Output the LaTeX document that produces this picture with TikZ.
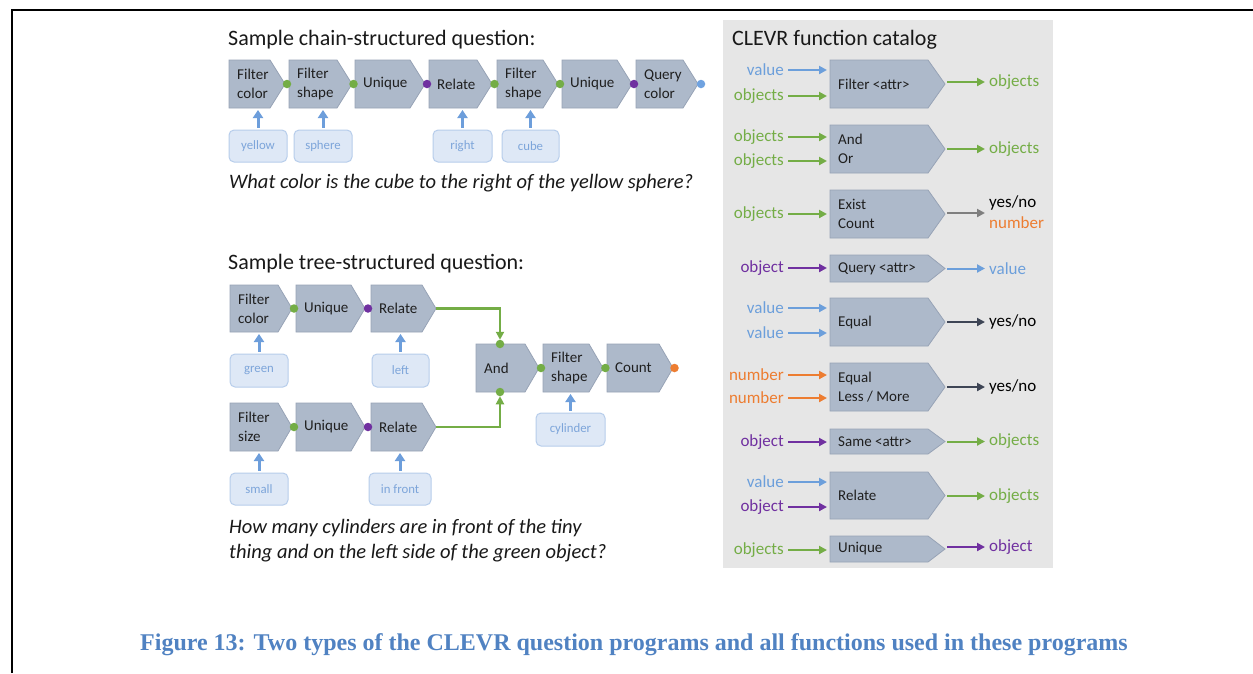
\documentclass[tikz,border=0pt]{standalone}
\usepackage{fontspec}
\setmainfont{Carlito}
\newfontfamily\capfont{Liberation Serif}
\usetikzlibrary{arrows.meta,calc}
\definecolor{boxfill}{HTML}{ADB9CA}
\definecolor{boxline}{HTML}{97A3B6}
\definecolor{inboxfill}{HTML}{DEE8F6}
\definecolor{inboxline}{HTML}{B7CDEB}
\definecolor{inboxtext}{HTML}{7DA5DA}
\definecolor{arrblue}{HTML}{6D9EDB}
\definecolor{cblue}{HTML}{6C9FDB}
\definecolor{cgreen}{HTML}{74AD46}
\definecolor{cpurple}{HTML}{7030A0}
\definecolor{corange}{HTML}{ED7D31}
\definecolor{cgray}{HTML}{7F7F7F}
\definecolor{cdark}{HTML}{3E4555}
\definecolor{catbg}{HTML}{E6E6E6}
\definecolor{capblue}{HTML}{5082C2}
\definecolor{dblue}{HTML}{6FA2E0}
\newcommand\pbox[7]{%
  \node[inner sep=0,outer sep=0,minimum width=#4pt,minimum height=#5pt,anchor=north west] (#1) at (#2,#3) {};
  \draw[boxst] (#1.north west) -- ([xshift=-#6pt]#1.north east) -- (#1.east) -- ([xshift=-#6pt]#1.south east) -- (#1.south west) -- cycle;
  \node[btext] (#1t) at ([xshift=8pt]#1.west) {#7};
}
\begin{document}
\begin{tikzpicture}[x=1pt,y=-1pt,
  boxst/.style={fill=boxfill,draw=boxline,line width=0.8pt},
  btext/.style={font=\fontsize{15}{19}\selectfont,align=left,text=black!88,inner sep=0,anchor=west},
  inbox/.style={rounded corners=5pt,fill=inboxfill,draw=inboxline,line width=1pt,font=\fontsize{12.8}{15}\selectfont,text=inboxtext,inner sep=0,minimum height=32pt},
  dotst/.style={circle,inner sep=0,outer sep=0,minimum size=8.5pt},
  inarrow/.style={-{Triangle[width=10pt,length=8pt]},line width=3pt,draw=arrblue},
  treearrow/.style={-{Triangle[width=8pt,length=8pt]},line width=2.5pt,draw=cgreen},
  catarr/.style={-{Triangle[width=8pt,length=8pt]},line width=2pt},
  catlab/.style={font=\fontsize{17}{20}\selectfont,inner sep=0},
  title/.style={font=\fontsize{22}{26}\selectfont,inner sep=0,anchor=base west,text=black!90},
  question/.style={font=\fontsize{20.5}{25}\selectfont\itshape,inner sep=0,anchor=base west,align=left,text=black!90}
]
\useasboundingbox (0,0) rectangle (1253,673);
\fill[white] (0,0) rectangle (1253,673);
% frame
\draw[line width=2pt] (12,673) -- (12,10) -- (1253,10);

% ---------------- chain question ----------------
\node[title] (chaintitle) at (228,45) {Sample chain-structured question:};
\pbox{cb1}{229}{60}{56}{48}{15}{Filter\\color}
\pbox{cb2}{289}{60}{63}{48}{15}{Filter\\shape}
\pbox{cb3}{355}{60}{70}{48}{15}{Unique}
\pbox{cb4}{429}{60}{63}{48}{15}{Relate}
\pbox{cb5}{497}{60}{61}{48}{15}{Filter\\shape}
\pbox{cb6}{562}{60}{70}{48}{15}{Unique}
\pbox{cb7}{636}{60}{62}{48}{15}{Query\\color}
\node[dotst,fill=cgreen] (cd1) at ($(cb1.east)!0.5!(cb2.west)$) {};
\node[dotst,fill=cgreen] (cd2) at ($(cb2.east)!0.5!(cb3.west)$) {};
\node[dotst,fill=cpurple] (cd3) at ($(cb3.east)!0.5!(cb4.west)$) {};
\node[dotst,fill=cgreen] (cd4) at ($(cb4.east)!0.5!(cb5.west)$) {};
\node[dotst,fill=cgreen] (cd5) at ($(cb5.east)!0.5!(cb6.west)$) {};
\node[dotst,fill=cpurple] (cd6) at ($(cb6.east)!0.5!(cb7.west)$) {};
\node[dotst,fill=dblue] (cd7) at ([xshift=3pt]cb7.east) {};

\node[inbox,minimum width=58pt] (iyellow) at (258,146) {yellow};
\node[inbox,minimum width=58pt] (isphere) at (323,146) {sphere};
\node[inbox,minimum width=59pt] (iright) at (462.5,146) {right};
\node[inbox,minimum width=57pt] (icube) at (530.5,146) {cube};
\draw[inarrow] ([yshift=2pt]iyellow.north) -- ([yshift=-2pt]iyellow.north |- cb1.south);
\draw[inarrow] ([yshift=2pt]isphere.north) -- ([yshift=-2pt]isphere.north |- cb2.south);
\draw[inarrow] ([yshift=2pt]iright.north) -- ([yshift=-2pt]iright.north |- cb4.south);
\draw[inarrow] ([yshift=2pt]icube.north) -- ([yshift=-2pt]icube.north |- cb5.south);

\node[question] (chainq) at (229,188) {What color is the cube to the right of the yellow sphere?};

% ---------------- tree question ----------------
\node[title] (treetitle) at (228,269) {Sample tree-structured question:};
\pbox{ta}{230}{285}{62}{47}{14}{Filter\\color}
\pbox{tb}{296}{285}{69}{47}{14}{Unique}
\pbox{tc}{371}{285}{65}{47}{14}{Relate}
\pbox{ba}{230}{403}{62}{48}{14}{Filter\\size}
\pbox{bb}{296}{403}{69}{48}{14}{Unique}
\pbox{bc}{371}{403}{65}{48}{14}{Relate}
\pbox{tand}{476}{344}{63}{48}{14}{And}
\pbox{tfs}{543}{344}{60}{48}{14}{Filter\\shape}
\pbox{tcount}{607}{344}{66}{48}{14}{Count}
\node[dotst,fill=cgreen] (td1) at ($(ta.east)!0.5!(tb.west)$) {};
\node[dotst,fill=cpurple] (td2) at ($(tb.east)!0.5!(tc.west)$) {};
\node[dotst,fill=cgreen] (bd1) at ($(ba.east)!0.5!(bb.west)$) {};
\node[dotst,fill=cpurple] (bd2) at ($(bb.east)!0.5!(bc.west)$) {};
\node[dotst,fill=cgreen] (andtop) at ([xshift=24pt]tand.north west) {};
\node[dotst,fill=cgreen] (andbot) at ([xshift=24pt]tand.south west) {};
\node[dotst,fill=cgreen] (ad1) at ($(tand.east)!0.5!(tfs.west)$) {};
\node[dotst,fill=cgreen] (ad2) at ($(tfs.east)!0.6!(tcount.west)$) {};
\node[dotst,fill=corange] (ad3) at ([xshift=1.5pt]tcount.east) {};
\draw[treearrow] (tc.east) -| (andtop);
\draw[treearrow] (bc.east) -| (andbot);

\node[inbox,minimum width=58pt,minimum height=33pt] (igreen) at (259,370.5) {green};
\node[inbox,minimum width=57pt,minimum height=33pt] (ileft) at (400.5,370.5) {left};
\node[inbox,minimum width=58pt] (ismall) at (259,489) {small};
\node[inbox,minimum width=62pt] (ifront) at (400,489) {in front};
\node[inbox,minimum width=69pt,minimum height=33pt] (icyl) at (570.5,429.5) {cylinder};
\draw[inarrow] ([yshift=2pt]igreen.north) -- ([yshift=-2pt]igreen.north |- ta.south);
\draw[inarrow] ([yshift=2pt]ileft.north) -- ([yshift=-2pt]ileft.north |- tc.south);
\draw[inarrow] ([yshift=2pt]ismall.north) -- ([yshift=-2pt]ismall.north |- ba.south);
\draw[inarrow] ([yshift=2pt]ifront.north) -- ([yshift=-2pt]ifront.north |- bc.south);
\draw[inarrow] ([yshift=2pt]icyl.north) -- ([yshift=-2pt]icyl.north |- tfs.south);

\node[question] (treeq) at (229,558) {How many cylinders are in front of the tiny\\thing and on the left side of the green object?};

% ---------------- catalog ----------------
\fill[catbg] (723,20) rectangle (1053,568);
\node[title] (cattitle) at (732,45) {CLEVR function catalog};
\pbox{r1}{830}{60}{115}{48}{17}{Filter <attr>}
\pbox{r2}{830}{125}{115}{48}{17}{And\\Or}
\pbox{r3}{830}{190}{115}{48}{17}{Exist\\Count}
\pbox{r4}{830}{255}{115}{27}{17}{Query <attr>}
\pbox{r5}{830}{298}{115}{48}{17}{Equal}
\pbox{r6}{830}{363}{115}{48}{17}{Equal\\Less / More}
\pbox{r7}{830}{429}{115}{25}{17}{Same <attr>}
\pbox{r8}{830}{472}{115}{47}{17}{Relate}
\pbox{r9}{830}{536}{115}{26}{17}{Unique}

% inputs
\node[catlab,text=cblue,anchor=east] (i1a) at (784,70) {value};
\node[catlab,text=cgreen,anchor=east] (i1b) at (784,96) {objects};
\node[catlab,text=cgreen,anchor=east] (i2a) at (784,137) {objects};
\node[catlab,text=cgreen,anchor=east] (i2b) at (784,161) {objects};
\node[catlab,text=cgreen,anchor=east] (i3a) at (784,214) {objects};
\node[catlab,text=cpurple,anchor=east] (i4a) at (784,268) {object};
\node[catlab,text=cblue,anchor=east] (i5a) at (784,308) {value};
\node[catlab,text=cblue,anchor=east] (i5b) at (784,333) {value};
\node[catlab,text=corange,anchor=east] (i6a) at (784,375) {number};
\node[catlab,text=corange,anchor=east] (i6b) at (784,398) {number};
\node[catlab,text=cpurple,anchor=east] (i7a) at (784,442) {object};
\node[catlab,text=cblue,anchor=east] (i8a) at (784,482) {value};
\node[catlab,text=cpurple,anchor=east] (i8b) at (784,507) {object};
\node[catlab,text=cgreen,anchor=east] (i9a) at (784,550) {objects};
\draw[catarr,cblue] ([xshift=4pt]i1a.east) -- ([xshift=-3pt]i1a.east -| r1.west);
\draw[catarr,cgreen] ([xshift=4pt]i1b.east) -- ([xshift=-3pt]i1b.east -| r1.west);
\draw[catarr,cgreen] ([xshift=4pt]i2a.east) -- ([xshift=-3pt]i2a.east -| r2.west);
\draw[catarr,cgreen] ([xshift=4pt]i2b.east) -- ([xshift=-3pt]i2b.east -| r2.west);
\draw[catarr,cgreen] ([xshift=4pt]i3a.east) -- ([xshift=-3pt]i3a.east -| r3.west);
\draw[catarr,cpurple] ([xshift=4pt]i4a.east) -- ([xshift=-3pt]i4a.east -| r4.west);
\draw[catarr,cblue] ([xshift=4pt]i5a.east) -- ([xshift=-3pt]i5a.east -| r5.west);
\draw[catarr,cblue] ([xshift=4pt]i5b.east) -- ([xshift=-3pt]i5b.east -| r5.west);
\draw[catarr,corange] ([xshift=4pt]i6a.east) -- ([xshift=-3pt]i6a.east -| r6.west);
\draw[catarr,corange] ([xshift=4pt]i6b.east) -- ([xshift=-3pt]i6b.east -| r6.west);
\draw[catarr,cpurple] ([xshift=4pt]i7a.east) -- ([xshift=-3pt]i7a.east -| r7.west);
\draw[catarr,cblue] ([xshift=4pt]i8a.east) -- ([xshift=-3pt]i8a.east -| r8.west);
\draw[catarr,cpurple] ([xshift=4pt]i8b.east) -- ([xshift=-3pt]i8b.east -| r8.west);
\draw[catarr,cgreen] ([xshift=4pt]i9a.east) -- ([xshift=-3pt]i9a.east -| r9.west);

% outputs
\node[catlab,text=cgreen,anchor=west] (o1) at ([xshift=44pt,yshift=2pt]r1.east) {objects};
\node[catlab,text=cgreen,anchor=west] (o2) at ([xshift=44pt]r2.east) {objects};
\coordinate (o3) at ([xshift=40pt,yshift=1pt]r3.east);
\node[catlab,text=black,anchor=west] (o3a) at ([xshift=44pt,yshift=11pt]r3.east) {yes/no};
\node[catlab,text=corange,anchor=west] (o3b) at ([xshift=44pt,yshift=-9pt]r3.east) {number};
\node[catlab,text=cblue,anchor=west] (o4) at ([xshift=44pt]r4.east) {value};
\node[catlab,text=black,anchor=west] (o5) at ([xshift=44pt]r5.east) {yes/no};
\node[catlab,text=black,anchor=west] (o6) at ([xshift=44pt]r6.east) {yes/no};
\node[catlab,text=cgreen,anchor=west] (o7) at ([xshift=44pt]r7.east) {objects};
\node[catlab,text=cgreen,anchor=west] (o8) at ([xshift=44pt,yshift=-0.5pt]r8.east) {objects};
\node[catlab,text=cpurple,anchor=west] (o9) at ([xshift=44pt,yshift=2pt]r9.east) {object};
\draw[catarr,cgreen] ([xshift=2pt]o1.west -| r1.east) -- ([xshift=-4pt]o1.west);
\draw[catarr,cgreen] ([xshift=2pt]o2.west -| r2.east) -- ([xshift=-4pt]o2.west);
\draw[catarr,cgray] ([xshift=2pt]o3 -| r3.east) -- (o3);
\draw[catarr,cblue] ([xshift=2pt]o4.west -| r4.east) -- ([xshift=-4pt]o4.west);
\draw[catarr,cdark] ([xshift=2pt]o5.west -| r5.east) -- ([xshift=-4pt]o5.west);
\draw[catarr,cdark] ([xshift=2pt]o6.west -| r6.east) -- ([xshift=-4pt]o6.west);
\draw[catarr,cgreen] ([xshift=2pt]o7.west -| r7.east) -- ([xshift=-4pt]o7.west);
\draw[catarr,cgreen] ([xshift=2pt]o8.west -| r8.east) -- ([xshift=-4pt]o8.west);
\draw[catarr,cpurple] ([xshift=2pt]o9.west -| r9.east) -- ([xshift=-4pt]o9.west);

% caption
\node[font=\capfont\bfseries\fontsize{24}{28}\selectfont,text=capblue,inner sep=0] (caption) at (634,645) {Figure 13: Two types of the CLEVR question programs and all functions used in these programs};
\end{tikzpicture}
\end{document}
